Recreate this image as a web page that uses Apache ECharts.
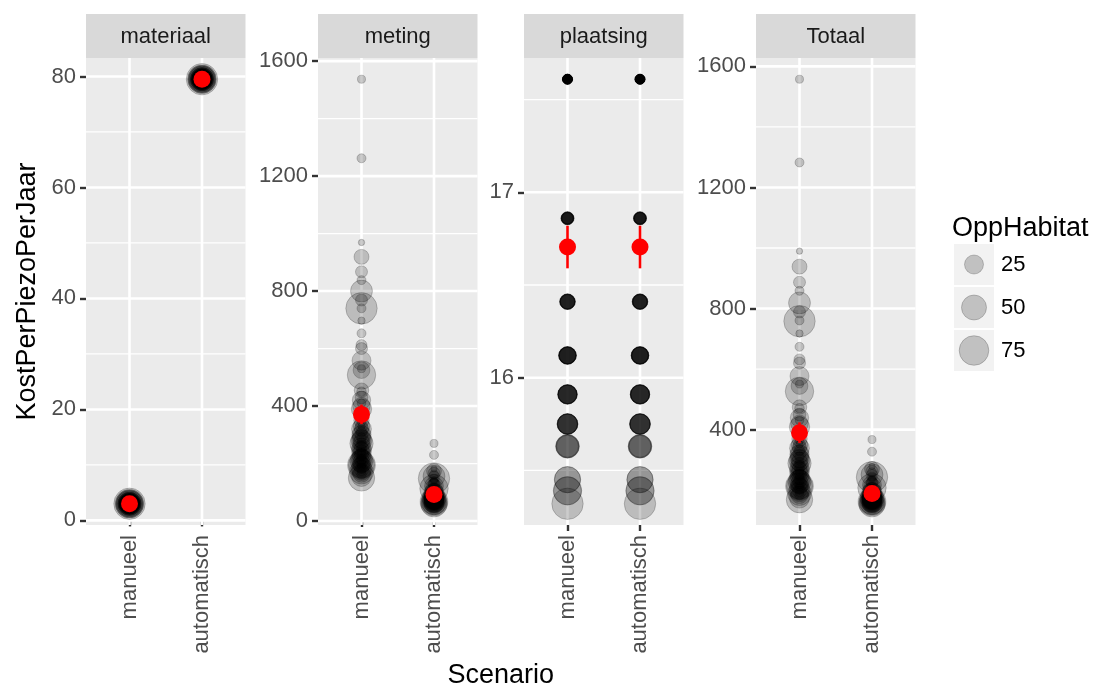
<!DOCTYPE html>
<html><head><meta charset="utf-8">
<script src="https://cdn.jsdelivr.net/npm/echarts@6/dist/echarts.min.js"></script>
<style>html,body{margin:0;padding:0;background:#fff}#c{width:1096px;height:690px}</style>
</head><body><div id="c"></div>
<script>
// ---------------- data ----------------
const scenarios = ['manueel', 'automatisch'];
const panelNames = ['materiaal', 'meting', 'plaatsing', 'Totaal'];

const oppHabitat = [
  1.5,2.4,0.4,2.4,2.4,1.0,2.4,1.5,3,2,3.5,2.5,1,4,3,2,2.5,3.5,1.5,3,2,4,2.5,3,1.5,3.5,2,3,
  6.7,6.7,5,6.7,8,7,9,6,8.5,7.5,
  13,12,14,11.5,15,13,12.5,14.5,11,
  18,20,17,21,19,18.5,20.5,17.5,19.5,
  25,23,26,24,27,25.5,23.5,26.5,
  30,28,32,29,31,30.5,28.5,
  36,42,40,44,
  55,57,
  68,64,
  86
];

const materiaalKost = [3.0, 79.5];   // manueel, automatisch (same for every habitat)

const metingManueel = [
  1537,1262,969,838,740,697,653,530,450,410,375,345,330,310,290,275,262,250,240,230,222,214,206,198,190,182,172,162,
  867,769,612,600,430,330,300,262,235,205,
  919,455,350,320,280,250,225,200,178,
  525,400,330,300,270,245,220,195,165,
  558,420,300,285,255,230,200,175,
  390,320,280,245,215,185,155,
  800,270,210,170,
  195,150,
  508,195,
  740
];

const metingAutomatisch = [
  270,230,181,162,148,141,135,116,105,99,94,89,87,84,81,79,77,75,74,72,71,70,69,67,66,65,64,62,
  166,152,129,127,102,87,82,77,73,68,
  174,105,90,85,79,75,71,68,64,
  116,97,87,82,78,74,71,67,62,
  121,100,82,80,76,72,68,64,
  96,85,79,74,70,65,61,
  156,78,69,63,
  67,60,
  113,67,
  148
];

const plaatsing = [
  17.61,17.61,17.61,17.61,17.61,17.61,17.61,17.61,17.61,17.61,17.61,17.61,17.61,17.61,
  17.61,17.61,17.61,17.61,17.61,17.61,17.61,17.61,17.61,17.61,17.61,17.61,17.61,17.61,
  16.86,16.86,16.86,16.86,16.86,16.86,16.86,16.86,16.86,16.86,
  16.41,16.41,16.41,16.41,16.41,16.41,16.41,16.41,16.41,
  16.12,16.12,16.12,16.12,16.12,16.12,16.12,16.12,16.12,
  15.91,15.91,15.91,15.91,15.91,15.91,15.91,15.91,
  15.75,15.75,15.75,15.75,15.75,15.75,15.75,
  15.63,15.63,15.63,15.63,
  15.45,15.45,
  15.39,15.39,
  15.32
];

const totaalManueel = [
  1557.6,1282.6,989.6,858.6,760.6,717.6,673.6,550.6,470.6,430.6,395.6,365.6,350.6,330.6,310.6,295.6,282.6,270.6,260.6,250.6,242.6,234.6,226.6,218.6,210.6,202.6,192.6,182.6,
  886.9,788.9,631.9,619.9,449.9,349.9,319.9,281.9,254.9,224.9,
  938.4,474.4,369.4,339.4,299.4,269.4,244.4,219.4,197.4,
  544.1,419.1,349.1,319.1,289.1,264.1,239.1,214.1,184.1,
  576.9,438.9,318.9,303.9,273.9,248.9,218.9,193.9,
  408.8,338.8,298.8,263.8,233.8,203.8,173.8,
  818.6,288.6,228.6,188.6,
  213.5,168.5,
  526.4,213.4,
  758.3
];

const totaalAutomatisch = [
  367.1,327.1,278.1,259.1,245.1,238.1,232.1,213.1,202.1,196.1,191.1,186.1,184.1,181.1,178.1,176.1,174.1,172.1,171.1,169.1,168.1,167.1,166.1,164.1,163.1,162.1,161.1,159.1,
  262.4,248.4,225.4,223.4,198.4,183.4,178.4,173.4,169.4,164.4,
  269.9,200.9,185.9,180.9,174.9,170.9,166.9,163.9,159.9,
  211.6,192.6,182.6,177.6,173.6,169.6,166.6,162.6,157.6,
  216.4,195.4,177.4,175.4,171.4,167.4,163.4,159.4,
  191.3,180.3,174.3,169.3,165.3,160.3,156.3,
  251.1,173.1,164.1,158.1,
  162,155,
  207.9,161.9,
  242.8
];

// summary (red point-range), per panel: [manueel, automatisch]
const meanValues  = [[3.0, 79.5], [371, 92], [16.705, 16.705], [390, 189]];
const lowerValues = [[3.0, 79.5], [337, 86], [16.59, 16.59],   [356, 183]];
const upperValues = [[3.0, 79.5], [405, 98], [16.82, 16.82],   [424, 195]];

const yTickValues  = [[0,20,40,60,80], [0,400,800,1200,1600], [16,17], [400,800,1200,1600]];
const yMinorValues = [[10,30,50,70], [200,600,1000,1400], [15.5,16.5,17.5], [200,600,1000,1400]];
const legendBreaks = [25, 50, 75];

// ---------------- layout / style ----------------
const FONT = "'Liberation Sans', Arial, sans-serif";
const panelLeft = [86, 318, 524, 756];
const panelWidth = 159.5;
const panelTop = 58;
const panelHeight = 467;
const stripTop = 14;
const stripHeight = panelTop - stripTop;

function sizeOf(v) { return 4.5 + 2.9 * Math.sqrt(v); }
function expandRange(vals) {
  const mn = Math.min(...vals), mx = Math.max(...vals), d = mx - mn;
  return [mn - 0.05 * d, mx + 0.05 * d];
}

const panelValues = [
  [oppHabitat.map(() => materiaalKost[0]), oppHabitat.map(() => materiaalKost[1])],
  [metingManueel, metingAutomatisch],
  [plaatsing, plaatsing],
  [totaalManueel, totaalAutomatisch]
];

const grids = [], xAxes = [], yAxes = [], series = [], graphics = [];

panelNames.forEach((name, p) => {
  const all = [].concat(panelValues[p][0], panelValues[p][1], lowerValues[p], upperValues[p]);
  const [yMin, yMax] = expandRange(all);

  grids.push({
    left: panelLeft[p], top: panelTop, width: panelWidth, height: panelHeight,
    show: true, backgroundColor: '#EBEBEB', borderWidth: 0, containLabel: false
  });
  xAxes.push({
    type: 'value', gridIndex: p, min: 0.4, max: 2.6,
    axisLine: { show: false }, splitLine: { show: false },
    axisTick: { show: true, length: 6, customValues: [1, 2], lineStyle: { color: '#333333', width: 2.4 } },
    axisLabel: {
      customValues: [1, 2], rotate: 90, margin: 10, fontSize: 22, color: '#4D4D4D', fontFamily: FONT,
      formatter: v => scenarios[Math.round(v) - 1]
    }
  });
  yAxes.push({
    type: 'value', gridIndex: p, min: yMin, max: yMax,
    axisLine: { show: false }, splitLine: { show: false },
    axisTick: { show: true, length: 6, customValues: yTickValues[p], lineStyle: { color: '#333333', width: 2.4 } },
    axisLabel: { customValues: yTickValues[p], margin: 10, fontSize: 22, color: '#4D4D4D', fontFamily: FONT,
                 formatter: v => String(Math.round(v * 100) / 100) }
  });

  // grid lines
  const gl = [];
  yTickValues[p].forEach(v => gl.push([0, v]));
  yMinorValues[p].forEach(v => gl.push([1, v]));
  [1, 2].forEach(v => gl.push([2, v]));
  series.push({
    type: 'custom', xAxisIndex: p, yAxisIndex: p, silent: true, z: 1, clip: false,
    data: gl,
    renderItem: function (params, api) {
      const kind = api.value(0), val = api.value(1);
      let a, b;
      if (kind === 2) { a = api.coord([val, yMin]); b = api.coord([val, yMax]); }
      else { a = api.coord([0.4, val]); b = api.coord([2.6, val]); }
      return { type: 'line', shape: { x1: a[0], y1: a[1], x2: b[0], y2: b[1] },
               style: { stroke: '#FFFFFF', lineWidth: kind === 1 ? 1.3 : 2.6 } };
    }
  });

  // points
  [0, 1].forEach(s => {
    series.push({
      type: 'scatter', xAxisIndex: p, yAxisIndex: p, silent: true, z: 2,
      data: panelValues[p][s].map((y, i) => [s + 1, y, oppHabitat[i]]),
      symbol: 'circle',
      symbolSize: d => sizeOf(d[2]),
      itemStyle: { color: 'rgba(0,0,0,0.2)', borderColor: 'rgba(0,0,0,0.2)', borderWidth: 1, opacity: 1 },
      emphasis: { disabled: true }
    });
  });

  // error bars
  series.push({
    type: 'custom', xAxisIndex: p, yAxisIndex: p, silent: true, z: 3, clip: false,
    data: [0, 1].map(s => [s + 1, lowerValues[p][s], upperValues[p][s]]),
    renderItem: function (params, api) {
      const a = api.coord([api.value(0), api.value(1)]);
      const b = api.coord([api.value(0), api.value(2)]);
      return { type: 'line', shape: { x1: a[0], y1: a[1], x2: b[0], y2: b[1] },
               style: { stroke: '#FF0000', lineWidth: 2.6 } };
    }
  });
  // mean points
  series.push({
    type: 'scatter', xAxisIndex: p, yAxisIndex: p, silent: true, z: 4,
    data: [0, 1].map(s => [s + 1, meanValues[p][s]]),
    symbol: 'circle', symbolSize: 17,
    itemStyle: { color: '#FF0000', opacity: 1 },
    emphasis: { disabled: true }
  });

  // strip
  graphics.push({ type: 'rect', shape: { x: panelLeft[p], y: stripTop, width: panelWidth, height: stripHeight },
                  style: { fill: '#D9D9D9' }, silent: true });
  graphics.push({ type: 'text', x: panelLeft[p] + panelWidth / 2, y: stripTop + stripHeight / 2 + 1,
                  style: { text: name, fill: '#1A1A1A', font: '22px ' + FONT, align: 'center', verticalAlign: 'middle' }, silent: true });
});

// axis titles
graphics.push({ type: 'text', x: 28, y: panelTop + panelHeight / 2, rotation: Math.PI / 2,
                style: { text: 'KostPerPiezoPerJaar', fill: '#000', font: '27px ' + FONT, align: 'center', verticalAlign: 'middle' }, silent: true });
graphics.push({ type: 'text', x: (panelLeft[0] + panelLeft[3] + panelWidth) / 2, y: 676,
                style: { text: 'Scenario', fill: '#000', font: '27px ' + FONT, align: 'center', verticalAlign: 'middle' }, silent: true });

// legend
graphics.push({ type: 'text', x: 952, y: 229,
                style: { text: 'OppHabitat', fill: '#000', font: '27px ' + FONT, align: 'left', verticalAlign: 'middle' }, silent: true });
legendBreaks.forEach((b, i) => {
  const top = 244 + 43 * i;
  graphics.push({ type: 'rect', shape: { x: 954, y: top, width: 40, height: 41 }, style: { fill: '#F2F2F2' }, silent: true });
  graphics.push({ type: 'circle', shape: { cx: 974, cy: top + 20.5, r: sizeOf(b) / 2 },
                  style: { fill: 'rgba(0,0,0,0.2)', stroke: 'rgba(0,0,0,0.2)', lineWidth: 1 }, silent: true });
  graphics.push({ type: 'text', x: 1001, y: top + 21,
                  style: { text: String(b), fill: '#000', font: '22px ' + FONT, align: 'left', verticalAlign: 'middle' }, silent: true });
});

const chart = echarts.init(document.getElementById('c'), null, { renderer: 'canvas' });
chart.setOption({
  animation: false,
  backgroundColor: '#FFFFFF',
  grid: grids, xAxis: xAxes, yAxis: yAxes, series: series, graphic: graphics
});
</script></body></html>
